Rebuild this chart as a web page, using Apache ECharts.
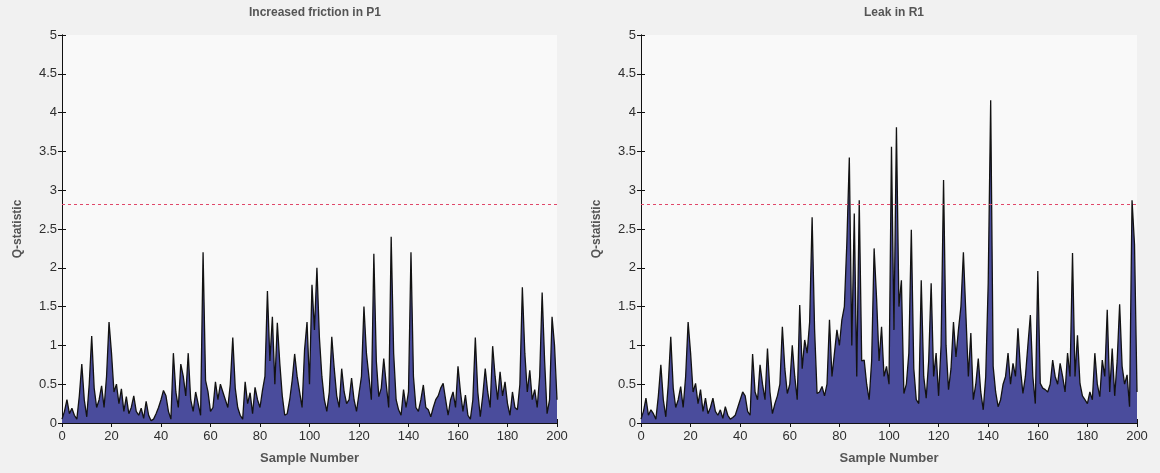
<!DOCTYPE html>
<html>
<head>
<meta charset="utf-8">
<script src="https://cdn.jsdelivr.net/npm/echarts@6/dist/echarts.min.js"></script>
<style>
  html, body { margin: 0; padding: 0; background: #f1f1f1; }
  #chart { width: 1160px; height: 473px; }
</style>
</head>
<body>
<div id="chart"></div>
<script>
// Q-statistic per sample, samples 0..200
const frictionP1 = [
  0.05, 0.15, 0.3, 0.12, 0.19, 0.1, 0.05, 0.35, 0.76, 0.3,
  0.08, 0.5, 1.12, 0.45, 0.2, 0.3, 0.48, 0.2, 0.6, 1.3,
  0.9, 0.4, 0.5, 0.25, 0.44, 0.15, 0.34, 0.12, 0.2, 0.35,
  0.15, 0.1, 0.19, 0.06, 0.28, 0.1, 0.03, 0.05, 0.12, 0.2,
  0.3, 0.42, 0.35, 0.15, 0.05, 0.9, 0.4, 0.2, 0.76, 0.6,
  0.35, 0.9, 0.3, 0.15, 0.4, 0.25, 0.1, 2.2, 0.55, 0.4,
  0.15, 0.2, 0.53, 0.3, 0.5, 0.4, 0.3, 0.2, 0.5, 1.1,
  0.45, 0.2, 0.1, 0.05, 0.53, 0.25, 0.39, 0.12, 0.46, 0.3,
  0.2, 0.42, 0.6, 1.7, 0.8, 1.37, 0.5, 1.29, 0.77, 0.35,
  0.1, 0.12, 0.3, 0.55, 0.89, 0.6, 0.4, 0.2, 0.94, 1.3,
  0.5, 1.78, 1.2, 2.0, 1.1, 0.6, 0.3, 0.15, 0.4, 1.11,
  0.7, 0.35, 0.2, 0.7, 0.4, 0.25, 0.3, 0.58, 0.3, 0.15,
  0.38, 0.6, 1.5, 0.9, 0.6, 0.3, 2.18, 0.8, 0.34, 0.45,
  0.83, 0.5, 0.2, 2.4, 0.9, 0.3, 0.17, 0.1, 0.43, 0.2,
  0.4, 2.2, 0.6, 0.2, 0.15, 0.3, 0.49, 0.2, 0.17, 0.08,
  0.2, 0.3, 0.35, 0.45, 0.51, 0.3, 0.1, 0.3, 0.4, 0.2,
  0.73, 0.4, 0.15, 0.36, 0.1, 0.05, 0.3, 1.1, 0.4, 0.08,
  0.35, 0.7, 0.4, 0.2, 0.99, 0.6, 0.3, 0.66, 0.35, 0.53,
  0.25, 0.1, 0.4, 0.2, 0.17, 0.5, 1.75, 0.9, 0.4, 0.68,
  0.3, 0.43, 0.2, 0.6, 1.68, 0.8, 0.12, 0.3, 1.37, 1.0,
  0.3
];

const leakR1 = [
  0.05, 0.15, 0.32, 0.1, 0.17, 0.12, 0.05, 0.35, 0.75, 0.3,
  0.08, 0.5, 1.11, 0.45, 0.2, 0.3, 0.47, 0.2, 0.6, 1.3,
  0.9, 0.4, 0.51, 0.25, 0.43, 0.15, 0.32, 0.12, 0.2, 0.32,
  0.15, 0.1, 0.17, 0.06, 0.21, 0.1, 0.05, 0.07, 0.1, 0.2,
  0.3, 0.4, 0.35, 0.15, 0.1, 0.89, 0.4, 0.3, 0.75, 0.5,
  0.3, 0.96, 0.4, 0.12, 0.25, 0.35, 0.5, 1.24, 0.7, 0.38,
  0.5, 1.0, 0.6, 0.3, 1.52, 0.7, 1.07, 0.9, 1.3, 2.65,
  1.2, 0.38, 0.4, 0.47, 0.35, 0.5, 1.33, 0.6, 0.9, 1.2,
  1.0, 1.33, 1.5, 2.32, 3.42, 1.0, 2.7, 0.6, 2.87, 0.8,
  0.81, 0.5, 0.3, 0.8, 2.25, 1.6, 0.8, 1.24, 0.6, 0.73,
  0.5, 3.56, 1.2, 3.81, 1.5, 1.84, 0.38, 0.5, 0.9, 2.49,
  0.7, 0.3, 0.25, 1.84, 0.6, 0.32, 0.8, 1.8, 0.6, 0.9,
  0.35, 1.0, 3.13, 1.0, 0.43, 0.7, 1.3, 0.85, 1.2, 1.5,
  2.2, 1.4, 0.6, 1.16, 0.3, 0.5, 0.83, 0.4, 0.17, 0.6,
  1.8, 4.16, 0.73, 0.4, 0.21, 0.3, 0.5, 0.6, 0.9, 0.5,
  0.77, 0.6, 1.22, 0.7, 0.38, 0.6, 1.0, 1.39, 0.6, 0.25,
  1.96, 0.51, 0.45, 0.43, 0.4, 0.5, 0.81, 0.6, 0.5, 0.77,
  0.6, 0.4, 0.9, 0.6, 2.19, 0.6, 1.13, 0.51, 0.35, 0.3,
  0.25, 0.4, 0.3, 0.9, 0.5, 0.34, 0.81, 0.6, 1.46, 0.4,
  0.96, 0.35, 0.8, 1.53, 0.73, 0.5, 0.62, 0.21, 2.87, 2.3,
  0.4
];

const threshold = 2.82;
const titles = ['Increased friction in P1', 'Leak in R1'];

const textColor = '#2e2e2e';
const labelColor = '#555';
const font = 'Liberation Sans, Arial, sans-serif';

const toPairs = arr => arr.map((v, i) => [i, v]);

const grids = [
  { left: 62, right: 603, top: 35, bottom: 50 },
  { left: 641, right: 23, top: 35, bottom: 50 }
];

let xAxis = [], yAxis = [], series = [];
grids.forEach((g, k) => {
  // bottom x (labels) and top x (box ticks only)
  xAxis.push({
    gridIndex: k, type: 'value', min: 0, max: 200, interval: 20,
    name: 'Sample Number', nameLocation: 'middle', nameGap: 29,
    nameTextStyle: { color: labelColor, fontSize: 13, fontWeight: 'bold', fontFamily: font },
    axisLine: { lineStyle: { color: '#111', width: 1 } },
    axisTick: { inside: true, length: 4, lineStyle: { color: '#111' } },
    axisLabel: { color: textColor, fontSize: 13, fontFamily: font, margin: 7 },
    splitLine: { show: false }
  });
  xAxis.push({
    gridIndex: k, type: 'value', position: 'top', min: 0, max: 200, interval: 20,
    axisLine: { lineStyle: { color: '#111', width: 1 } },
    axisTick: { inside: true, length: 4, lineStyle: { color: '#111' } },
    axisLabel: { show: false },
    splitLine: { show: false }
  });
  yAxis.push({
    gridIndex: k, type: 'value', min: 0, max: 5, interval: 0.5,
    name: 'Q-statistic', nameLocation: 'middle', nameGap: 38,
    nameTextStyle: { color: labelColor, fontSize: 12, fontWeight: 'bold', fontFamily: font },
    axisLine: { show: true, lineStyle: { color: '#111', width: 1 } },
    axisTick: { show: true, inside: true, length: 4, lineStyle: { color: '#111' } },
    axisLabel: { color: textColor, fontSize: 13, fontFamily: font, margin: 5 },
    splitLine: { show: false }
  });
  yAxis.push({
    gridIndex: k, type: 'value', position: 'right', min: 0, max: 5, interval: 0.5,
    axisLine: { show: true, lineStyle: { color: '#111', width: 1 } },
    axisTick: { show: true, inside: true, length: 4, lineStyle: { color: '#111' } },
    axisLabel: { show: false },
    splitLine: { show: false }
  });
});

[frictionP1, leakR1].forEach((vals, k) => {
  series.push({
    type: 'line',
    xAxisIndex: k * 2, yAxisIndex: k * 2,
    data: toPairs(vals),
    showSymbol: false,
    symbol: 'none',
    animation: false,
    lineStyle: { color: '#121212', width: 1.3 },
    areaStyle: { color: '#4a4c9c', opacity: 1 },
    markLine: {
      silent: true, symbol: 'none', animation: false,
      label: { show: false },
      lineStyle: { color: '#e0486a', type: [3, 3], width: 1 },
      data: [{ yAxis: threshold }]
    }
  });
});

const chart = echarts.init(document.getElementById('chart'));
chart.setOption({
  backgroundColor: '#f1f1f1',
  animation: false,
  title: titles.map((t, k) => ({
    text: t, left: k === 0 ? 310 : 889, top: 2, textAlign: 'center',
    textStyle: { color: labelColor, fontSize: 12, fontWeight: 'bold', fontFamily: font }
  })),
  grid: grids.map(g => Object.assign({ show: true, backgroundColor: '#f9f9f9', borderWidth: 0 }, g)),
  xAxis: xAxis,
  yAxis: yAxis,
  series: series
});
</script>
</body>
</html>
